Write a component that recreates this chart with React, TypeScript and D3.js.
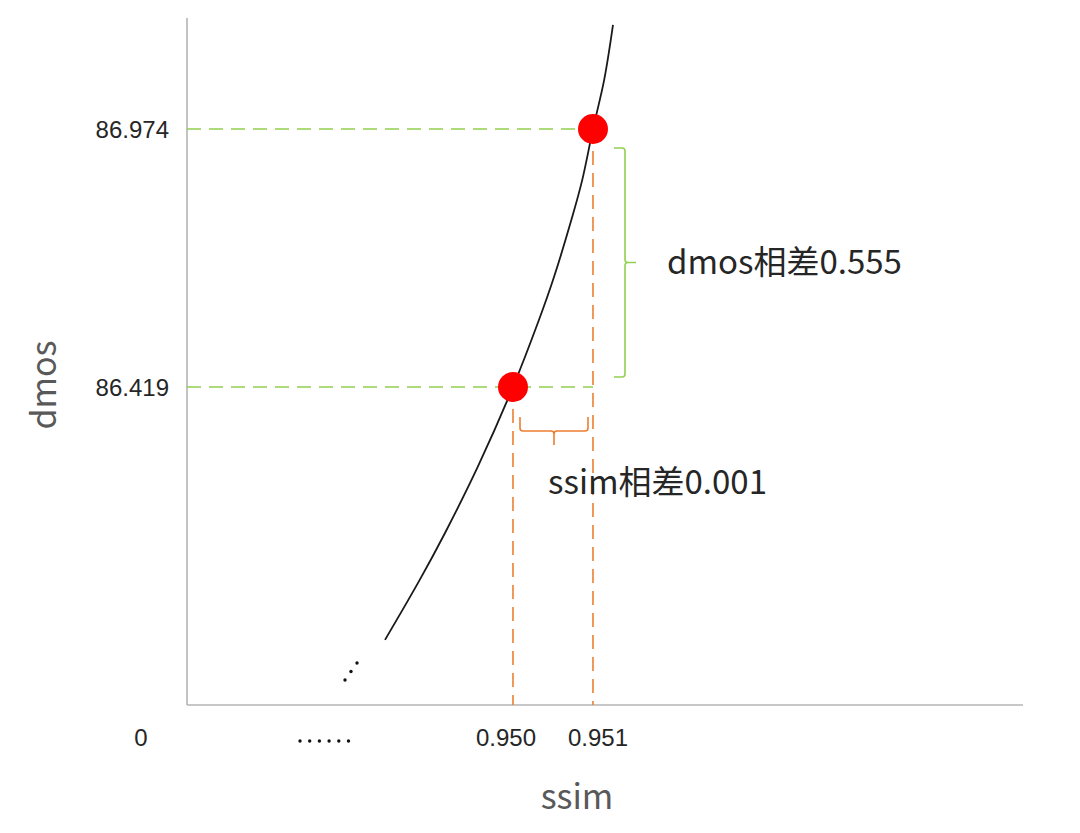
import React from "react";
import * as d3 from "d3";

// ---- data ----
const curveSsim = [0.9484, 0.948834, 0.94915, 0.949559, 0.95, 0.950324, 0.9505, 0.950729, 0.950865, 0.951, 0.951139, 0.95125];
const curveDmos = [85.875, 86.004, 86.105, 86.247, 86.419, 86.563, 86.649, 86.778, 86.864, 86.974, 87.079, 87.198];
const pointSsim = [0.95, 0.951];
const pointDmos = [86.419, 86.974];
const xTickLabels = ["0.950", "0.951"];
const yTickLabels = ["86.974", "86.419"];
const originLabel = "0";
const dmosNote = "dmos相差0.555";
const ssimNote = "ssim相差0.001";
const xTitle = "ssim";
const yTitle = "dmos";

const W = 1080;
const H = 833;
const axisX = 187;
const axisY = 705;
const axisTop = 18;
const axisRight = 1023;

const GREEN = "#92d050";
const ORANGE = "#ed7d31";
const AXIS = "#b4b4b4";
const TEXT = "#262626";
const TITLE = "#595959";
const CJK = "'Noto Sans CJK SC', 'Noto Sans', sans-serif";
const LAT = "'Liberation Sans', Arial, sans-serif";

export default function App() {
  const x = d3.scaleLinear().domain([0.95, 0.951]).range([513, 593]);
  const y = d3.scaleLinear().domain([86.419, 86.974]).range([387, 129]);

  const pts: [number, number][] = curveSsim.map((s, i) => [x(s), y(curveDmos[i])]);
  const line = d3.line().curve(d3.curveCatmullRom.alpha(0.5))(pts) || "";

  const x0 = x(pointSsim[0]);
  const x1 = x(pointSsim[1]);
  const yLo = y(pointDmos[0]);
  const yHi = y(pointDmos[1]);

  // green brace (vertical)
  const bx = x1 + 32;
  const bTop = yHi + 19;
  const bBot = yLo - 10;
  const bMid = (bTop + bBot) / 2;
  const gBrace = `M${bx - 11},${bTop} L${bx - 3},${bTop} Q${bx},${bTop} ${bx},${bTop + 3} L${bx},${bMid - 3} Q${bx},${bMid} ${bx + 3},${bMid} L${bx + 11},${bMid} M${bx + 3},${bMid} Q${bx},${bMid} ${bx},${bMid + 3} L${bx},${bBot - 3} Q${bx},${bBot} ${bx - 3},${bBot} L${bx - 11},${bBot}`;

  // orange brace (horizontal)
  const oL = x0 + 7;
  const oR = x1 - 5;
  const oTop = yLo + 30;
  const oY = yLo + 44;
  const oMid = (oL + oR) / 2;
  const oBrace = `M${oL},${oTop} L${oL},${oY - 3} Q${oL},${oY} ${oL + 3},${oY} L${oMid - 3},${oY} Q${oMid},${oY} ${oMid},${oY + 3} L${oMid},${oY + 14} M${oMid},${oY + 3} Q${oMid},${oY} ${oMid + 3},${oY} L${oR - 3},${oY} Q${oR},${oY} ${oR},${oY - 3} L${oR},${oTop}`;

  const diagDots = [0, 1, 2].map((i) => [345 + i * 6, 680 - i * 8.5]);
  const hDots = [0, 1, 2, 3, 4, 5].map((i) => 300 + i * 9.7);

  return (
    <svg width={W} height={H} style={{ position: "absolute", left: 0, top: 0, background: "#fff" }}>
      {/* axes */}
      <line x1={axisX} y1={axisTop} x2={axisX} y2={axisY} stroke={AXIS} strokeWidth={1.6} />
      <line x1={axisX} y1={axisY} x2={axisRight} y2={axisY} stroke={AXIS} strokeWidth={1.6} />

      {/* guide lines */}
      <line x1={axisX} y1={yHi} x2={x1} y2={yHi} stroke={GREEN} strokeWidth={1.6} strokeDasharray="14 8" />
      <line x1={axisX} y1={yLo} x2={x1} y2={yLo} stroke={GREEN} strokeWidth={1.6} strokeDasharray="14 8" />
      <line x1={x0} y1={yLo} x2={x0} y2={axisY} stroke={ORANGE} strokeWidth={1.6} strokeDasharray="14 8" />
      <line x1={x1} y1={yHi} x2={x1} y2={axisY} stroke={ORANGE} strokeWidth={1.6} strokeDasharray="14 8" />

      {/* curve */}
      <path d={line} fill="none" stroke="#1a1a1a" strokeWidth={1.8} />

      {/* points */}
      {pointSsim.map((s, i) => (
        <circle key={i} cx={x(s)} cy={y(pointDmos[i])} r={15} fill="#ff0000" />
      ))}

      {/* braces */}
      <path d={gBrace} fill="none" stroke={GREEN} strokeWidth={1.6} />
      <path d={oBrace} fill="none" stroke={ORANGE} strokeWidth={1.6} />

      {/* notes */}
      <text x={bx + 42} y={bMid + 11} fontFamily={CJK} fontSize={33} fill={TEXT}>{dmosNote}</text>
      <text x={oL + 28} y={oY + 63} fontFamily={CJK} fontSize={33} fill={TEXT}>{ssimNote}</text>

      {/* tick labels */}
      {yTickLabels.map((t, i) => (
        <text key={t} x={axisX - 18} y={[yHi, yLo][i] + 9} textAnchor="end" fontFamily={LAT} fontSize={24} fill={TEXT}>{t}</text>
      ))}
      {xTickLabels.map((t, i) => (
        <text key={t} x={[x0, x1][i] + (i === 0 ? -7 : 5)} y={axisY + 41} textAnchor="middle" fontFamily={LAT} fontSize={24} fill={TEXT}>{t}</text>
      ))}
      <text x={axisX - 46} y={axisY + 41} textAnchor="middle" fontFamily={LAT} fontSize={24} fill={TEXT}>{originLabel}</text>

      {/* ellipsis marks */}
      {diagDots.map(([cx, cy], i) => (
        <circle key={"d" + i} cx={cx} cy={cy} r={1.7} fill="#111" />
      ))}
      {hDots.map((cx, i) => (
        <circle key={"h" + i} cx={cx} cy={axisY + 36} r={1.7} fill="#111" />
      ))}

      {/* axis titles */}
      <text x={577} y={axisY + 104} textAnchor="middle" fontFamily={CJK} fontSize={34} fill={TITLE}>{xTitle}</text>
      <text transform={`translate(56,385) rotate(-90)`} textAnchor="middle" fontFamily={CJK} fontSize={34} fill={TITLE}>{yTitle}</text>
    </svg>
  );
}
